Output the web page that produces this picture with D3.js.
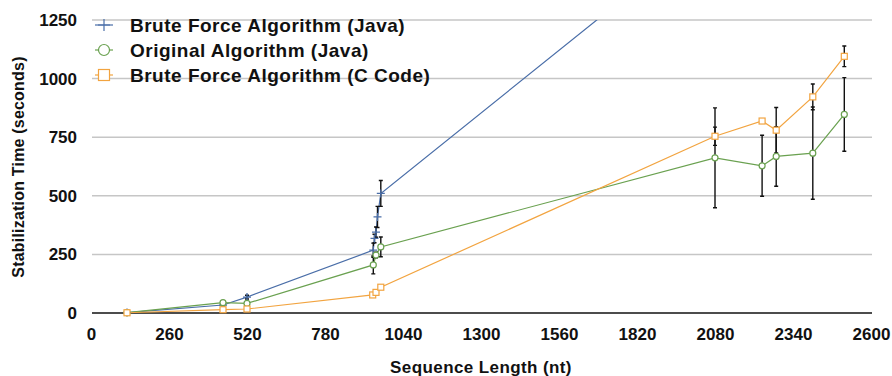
<!DOCTYPE html>
<html>
<head>
<meta charset="utf-8">
<script src="https://cdn.jsdelivr.net/npm/d3@7"></script>
<style>
  html, body { margin: 0; padding: 0; background: #fff; }
  svg { display: block; font-family: "Liberation Sans", Arial, Helvetica, sans-serif; }
</style>
</head>
<body>
<svg id="chart" width="892" height="376"></svg>
<script>
// Sequence lengths (nt), mean stabilization times (s) and error half-widths (s)
const bruteJavaX   = [120, 440, 520, 941, 945, 950, 955, 966, 2080];
const bruteJavaY   = [2, 34, 68, 268, 318, 345, 410, 510, 1655];
const bruteJavaErr = [0, 8, 8, 30, 18, 22, 45, 55, 0];

const originalX   = [120, 440, 520, 941, 950, 966, 2080, 2237, 2284, 2406, 2511];
const originalY   = [2, 44, 41, 205, 247, 282, 662, 628, 668, 682, 847];
const originalErr = [0, 8, 5, 38, 12, 42, 213, 130, 127, 197, 157];

const bruteCX   = [120, 440, 520, 939, 950, 966, 2080, 2237, 2284, 2406, 2511];
const bruteCY   = [1, 14, 17, 77, 88, 110, 754, 819, 780, 922, 1095];
const bruteCErr = [0, 3, 3, 3, 3, 4, 39, 2, 97, 55, 44];

const xTicks = [0, 260, 520, 780, 1040, 1300, 1560, 1820, 2080, 2340, 2600];
const yTicks = [0, 250, 500, 750, 1000, 1250];

const seriesNames = [
  "Brute Force Algorithm (Java)",
  "Original Algorithm (Java)",
  "Brute Force Algorithm (C Code)"
];

const series = [
  { name: seriesNames[0], xs: bruteJavaX, ys: bruteJavaY, err: bruteJavaErr, color: "#4a6ea8", marker: "cross" },
  { name: seriesNames[1], xs: originalX,  ys: originalY,  err: originalErr,  color: "#6aa150", marker: "circle" },
  { name: seriesNames[2], xs: bruteCX,    ys: bruteCY,    err: bruteCErr,    color: "#f2a440", marker: "square" }
];

const svg = d3.select("#chart");
const plotLeft = 91, plotRight = 871, plotTop = 20, plotBottom = 313;

const x = d3.scaleLinear().domain([0, 2600]).range([plotLeft, plotRight]);
const y = d3.scaleLinear().domain([0, 1250]).range([plotBottom, plotTop]);

// gridlines
svg.append("g").selectAll("line")
  .data(yTicks.filter(d => d > 0))
  .join("line")
  .attr("x1", plotLeft + 1).attr("x2", plotRight + 1)
  .attr("y1", d => y(d)).attr("y2", d => y(d))
  .attr("stroke", "#c6c6c6").attr("stroke-width", 1.5);

// x axis
const xAxis = svg.append("g")
  .attr("transform", `translate(0,${plotBottom})`)
  .call(d3.axisBottom(x).tickValues(xTicks).tickSize(0).tickPadding(15).tickFormat(d3.format("d")));
xAxis.select(".domain").attr("stroke", "#111").attr("stroke-width", 1.5)
  .attr("d", `M${plotLeft + 1},0H${plotRight + 1}`);
xAxis.selectAll("text").attr("font-size", 17).attr("font-weight", "bold").attr("fill", "#111")
  .attr("font-family", "'Liberation Sans', Arial, sans-serif");

// y axis
const yAxis = svg.append("g")
  .attr("transform", `translate(${plotLeft},0)`)
  .call(d3.axisLeft(y).tickValues(yTicks).tickSize(0).tickPadding(14).tickFormat(d3.format("d")));
yAxis.select(".domain").remove();
yAxis.selectAll("text").attr("font-size", 17).attr("font-weight", "bold").attr("fill", "#111")
  .attr("font-family", "'Liberation Sans', Arial, sans-serif");

// axis titles
svg.append("text")
  .attr("x", 481).attr("y", 373)
  .attr("text-anchor", "middle")
  .attr("font-size", 17).attr("font-weight", "bold").attr("fill", "#111")
  .attr("letter-spacing", 0.4)
  .text("Sequence Length (nt)");

svg.append("text")
  .attr("transform", "translate(24,167) rotate(-90)")
  .attr("text-anchor", "middle")
  .attr("font-size", 16).attr("font-weight", "bold").attr("fill", "#111")
  .attr("letter-spacing", 0.2)
  .text("Stabilization Time (seconds)");

// plot clip
svg.append("clipPath").attr("id", "plotClip")
  .append("rect").attr("x", plotLeft - 10).attr("y", plotTop)
  .attr("width", plotRight - plotLeft + 20).attr("height", plotBottom - plotTop + 10);

const plot = svg.append("g").attr("clip-path", "url(#plotClip)");

const line = d3.line().x(d => x(d[0])).y(d => y(d[1]));

function drawMarker(g, kind, color, cx, cy) {
  if (kind === "cross") {
    g.append("path")
      .attr("d", `M${cx - 4},${cy}H${cx + 4}M${cx},${cy - 4}V${cy + 4}`)
      .attr("stroke", color).attr("stroke-width", 1.3).attr("fill", "none");
  } else if (kind === "circle") {
    g.append("circle").attr("cx", cx).attr("cy", cy).attr("r", 3)
      .attr("stroke", color).attr("stroke-width", 1.2).attr("fill", "#fff");
  } else {
    g.append("rect").attr("x", cx - 3).attr("y", cy - 3).attr("width", 6).attr("height", 6)
      .attr("stroke", color).attr("stroke-width", 1.2).attr("fill", "#fff");
  }
}

series.forEach(s => {
  const pts = s.xs.map((v, i) => [v, s.ys[i], s.err[i]]);
  plot.append("path").datum(pts)
    .attr("d", line)
    .attr("fill", "none").attr("stroke", s.color).attr("stroke-width", 1.2);
});

// error bars
series.forEach(s => {
  const g = plot.append("g");
  s.xs.forEach((v, i) => {
    const e = s.err[i];
    if (!e) return;
    const cx = x(v), y1 = y(s.ys[i] + e), y2 = y(s.ys[i] - e);
    g.append("path")
      .attr("d", `M${cx},${y1}V${y2}M${cx - 2},${y1}H${cx + 2}M${cx - 2},${y2}H${cx + 2}`)
      .attr("stroke", "#111").attr("stroke-width", 1.4).attr("fill", "none");
  });
});

// markers
series.forEach(s => {
  const g = plot.append("g");
  s.xs.forEach((v, i) => drawMarker(g, s.marker, s.color, x(v), y(s.ys[i])));
});

// legend
const legend = svg.append("g");
series.forEach((s, i) => {
  const ly = 25 + i * 25;
  legend.append("line").attr("x1", 95).attr("x2", 113).attr("y1", ly).attr("y2", ly)
    .attr("stroke", s.color).attr("stroke-width", 1.2);
  if (s.marker === "cross") {
    legend.append("path").attr("d", `M104,${ly - 6}V${ly + 6}M98,${ly}H110`)
      .attr("stroke", s.color).attr("stroke-width", 1.2);
  } else if (s.marker === "circle") {
    legend.append("circle").attr("cx", 104).attr("cy", ly).attr("r", 5.5)
      .attr("stroke", s.color).attr("stroke-width", 1.2).attr("fill", "#fff");
  } else {
    legend.append("rect").attr("x", 98.5).attr("y", ly - 5.5).attr("width", 11).attr("height", 11)
      .attr("stroke", s.color).attr("stroke-width", 1.2).attr("fill", "#fff");
  }
  legend.append("text").attr("x", 130).attr("y", ly + 7)
    .attr("font-size", 19).attr("font-weight", "bold").attr("fill", "#111")
    .attr("letter-spacing", 0.5)
    .text(s.name);
});
</script>
</body>
</html>
